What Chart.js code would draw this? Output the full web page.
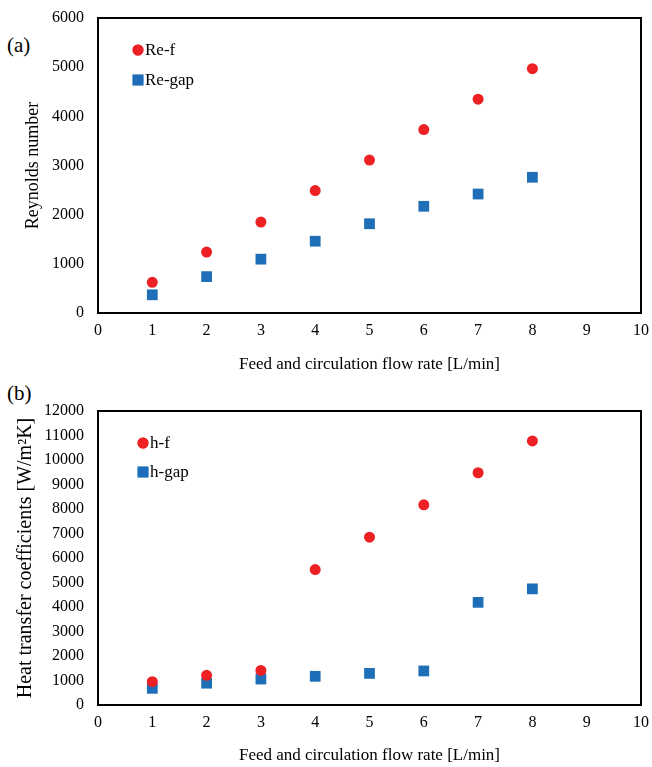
<!DOCTYPE html>
<html lang="en">
<head>
  <meta charset="UTF-8">
  <title>Reynolds number and heat transfer coefficients</title>
  <style>
    body {
      margin: 0;
      padding: 0;
      background: #fff;
      font-family: 'Liberation Serif', 'Times New Roman', serif;
    }

    .page {
      position: relative;
      width: 652px;
      height: 767px;
    }

    .panel {
      position: absolute;
      left: 0;
      width: 652px;
    }

    .tag {
      position: absolute;
      left: 7px;
      font-size: 21px;
      color: #000;
      line-height: 1;
    }
  </style>
</head>
<body>
  <div class="page">
    <div class="tag" style="top: 35px;">(a)</div>
    <div class="tag" style="top: 383px;">(b)</div>

    <!-- top panel: Reynolds numbers -->
    <div class="panel" style="top: 0; height: 385px;">
      <canvas id="chart-a" width="652" height="385"></canvas>
    </div>

    <!-- bottom panel: heat transfer coefficients -->
    <div class="panel" style="top: 385px; height: 382px;">
      <canvas id="chart-b" width="652" height="382"></canvas>
    </div>
  </div>

  <script src="https://cdn.jsdelivr.net/npm/chart.js"></script>

  <script>
    // flow rate [L/min]
    const flowRates = [1, 2, 3, 4, 5, 6, 7, 8];
    const xTicks = [0, 1, 2, 3, 4, 5, 6, 7, 8, 9, 10];

    // (a) Reynolds number
    const reF = [625, 1240, 1850, 2490, 3110, 3730, 4350, 4970];
    const reGap = [370, 740, 1095, 1460, 1815, 2170, 2420, 2760];
    const reTicks = [0, 1000, 2000, 3000, 4000, 5000, 6000];

    // (b) heat transfer coefficients [W/m2K]
    const hF = [950, 1210, 1410, 5530, 6850, 8170, 9480, 10780];
    const hGap = [680, 890, 1060, 1170, 1290, 1390, 4190, 4740];
    const hTicks = [0, 1000, 2000, 3000, 4000, 5000, 6000, 7000, 8000, 9000, 10000, 11000, 12000];

    const RED = '#ED2024';
    const BLUE = '#1F6FB8';
    const FONT = "'Liberation Serif', 'Times New Roman', serif";

    // black frame round the plot area
    const framePlugin = {
      id: 'frame',
      afterDraw(chart) {
        const { ctx, chartArea: a } = chart;
        ctx.save();
        ctx.strokeStyle = '#000';
        ctx.lineWidth = 2;
        ctx.strokeRect(a.left, a.top, a.right - a.left, a.bottom - a.top);
        ctx.restore();
      }
    };

    // legend drawn inside the plot, top-left
    const innerLegend = {
      id: 'innerLegend',
      afterDraw(chart, args, opts) {
        const { ctx, chartArea: a } = chart;
        ctx.save();
        ctx.font = '17px ' + FONT;
        ctx.textBaseline = 'middle';
        chart.data.datasets.forEach((ds, i) => {
          const x = a.left + opts.x;
          const y = a.top + opts.y + i * opts.gap;
          ctx.fillStyle = ds.backgroundColor;
          Chart.helpers.drawPoint(ctx, {
            pointStyle: ds.pointStyle,
            radius: ds.pointRadius,
            borderWidth: 0
          }, x, y);
          ctx.fill();
          ctx.fillStyle = '#000';
          ctx.fillText(ds.label, x + 7, y + 1);
        });
        ctx.restore();
      }
    };

    function makeChart(id, opt) {
      const ctx = document.getElementById(id).getContext('2d');
      return new Chart(ctx, {
        type: 'scatter',
        data: {
          datasets: [{
            label: opt.names[0],
            data: flowRates.map((x, i) => ({ x: x, y: opt.series[0][i] })),
            pointStyle: 'circle',
            pointRadius: 5.5,
            pointHoverRadius: 5.5,
            backgroundColor: RED,
            borderWidth: 0
          }, {
            label: opt.names[1],
            data: flowRates.map((x, i) => ({ x: x, y: opt.series[1][i] })),
            pointStyle: 'rect',
            pointRadius: 7.6,
            pointHoverRadius: 7.6,
            backgroundColor: BLUE,
            borderWidth: 0
          }]
        },
        options: {
          responsive: false,
          animation: false,
          events: [],
          layout: { padding: { top: opt.top, right: 11, left: 0, bottom: 0 } },
          plugins: {
            legend: { display: false },
            tooltip: { enabled: false },
            innerLegend: opt.legend
          },
          scales: {
            x: {
              type: 'linear',
              min: 0,
              max: 10,
              afterBuildTicks: s => { s.ticks = xTicks.map(v => ({ value: v })); },
              afterFit: s => {
                s.height = opt.xHeight;
                s.paddingLeft = 0;
                s.paddingRight = 0;
              },
              grid: { display: false, drawTicks: false },
              border: { display: false },
              ticks: {
                color: '#000',
                font: { family: FONT, size: 16 },
                padding: 8,
                maxRotation: 0,
                callback: v => String(v)
              },
              title: {
                display: true,
                text: 'Feed and circulation flow rate [L/min]',
                color: '#000',
                font: { family: FONT, size: 17 },
                padding: opt.xTitlePad
              }
            },
            y: {
              type: 'linear',
              min: 0,
              max: opt.yTicks[opt.yTicks.length - 1],
              afterBuildTicks: s => { s.ticks = opt.yTicks.map(v => ({ value: v })); },
              afterFit: s => {
                s.width = 98;
                s.paddingTop = 0;
                s.paddingBottom = 0;
              },
              grid: { display: false, drawTicks: false },
              border: { display: false },
              ticks: {
                color: '#000',
                font: { family: FONT, size: 16 },
                padding: 14,
                callback: v => String(v)
              },
              title: {
                display: true,
                text: opt.yTitle,
                color: '#000',
                font: { family: FONT, size: opt.yTitleSize },
                padding: opt.yTitlePad
              }
            }
          }
        },
        plugins: [framePlugin, innerLegend]
      });
    }

    makeChart('chart-a', {
      names: ['Re-f', 'Re-gap'],
      series: [reF, reGap],
      yTicks: reTicks,
      yTitle: 'Reynolds number',
      yTitleSize: 18,
      top: 18,
      xHeight: 72,
      xTitlePad: 10,
      yTitlePad: 22,
      legend: { x: 40, y: 32, gap: 30 }
    });

    makeChart('chart-b', {
      names: ['h-f', 'h-gap'],
      series: [hF, hGap],
      yTicks: hTicks,
      yTitle: 'Heat transfer coefficients [W/m\u00B2K]',
      yTitleSize: 20,
      top: 26,
      xHeight: 62,
      xTitlePad: 1,
      yTitlePad: 14,
      legend: { x: 45, y: 32, gap: 29 }
    });
  </script>
</body>
</html>
